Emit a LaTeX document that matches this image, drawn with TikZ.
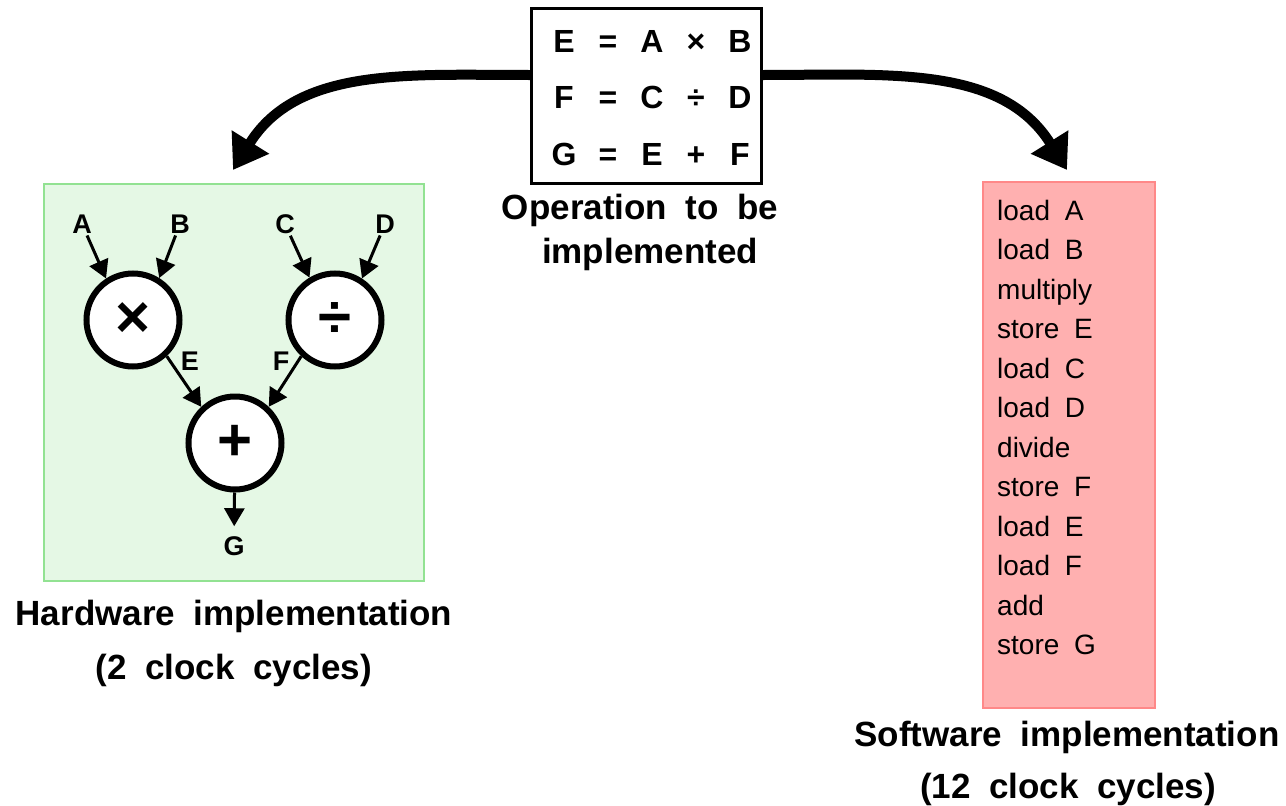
\documentclass[tikz,border=0pt]{standalone}
\usepackage{fontspec}
\setmainfont{Liberation Sans}
\newfontfamily\capf[WordSpace=2.6]{Liberation Sans}
\newfontfamily\codef[WordSpace=1.9]{Liberation Sans}
\usetikzlibrary{arrows.meta}
\definecolor{hwfill}{HTML}{E5F8E5}
\definecolor{hwline}{HTML}{92E292}
\definecolor{swfill}{HTML}{FFB0B0}
\definecolor{swline}{HTML}{FF8888}
\tikzset{
  caption/.style={anchor=base, inner sep=0, font=\capf\bfseries\fontsize{35}{40}\selectfont},
  eqline/.style={anchor=base, inner sep=0, font=\bfseries\fontsize{32}{38}\selectfont},
  var/.style={inner sep=2pt, font=\bfseries\fontsize{27}{30}\selectfont},
  opcircle/.style={circle, draw, fill=white, line width=6pt, minimum size=93pt, inner sep=0, font=\bfseries\fontsize{60}{60}\selectfont},
  smallarrow/.style={line width=3pt, -{Triangle[length=18pt,width=20pt]}},
  bigarrow/.style={line width=10pt, -{Triangle[length=33pt,width=42pt]}},
}
\newcommand{\cell}[1]{\makebox[44pt]{#1}}
\begin{document}
\begin{tikzpicture}[x=1pt,y=-1pt]
\useasboundingbox (0,0) rectangle (1286,806);
% operation box
\node[draw, line width=3pt, minimum width=230pt, minimum height=175pt, inner sep=0] (op) at (646.5,95.5) {};
\node[eqline] (eq1) at (652,52) {\cell{E}\cell{=}\cell{A}\cell{×}\cell{B}};
\node[eqline] (eq2) at (652,108) {\cell{F}\cell{=}\cell{C}\cell{÷}\cell{D}};
\node[eqline] (eq3) at (652,165) {\cell{G}\cell{=}\cell{E}\cell{+}\cell{F}};
\node[caption] (opcap1) at (640,219) {Operation to be};
\node[caption] (opcap2) at (650,263) {implemented};
% hardware box
\node[draw=hwline, fill=hwfill, line width=2.5pt, minimum width=380pt, minimum height=397pt, inner sep=0] (hw) at (234,382.5) {};
\node[opcircle] (mul) at (133,320) {×};
\node[opcircle] (div) at (335,320) {÷};
\node[opcircle] (add) at (235,443) {+};
\node[var] (A) at (82,224) {A};
\node[var] (B) at (180,224) {B};
\node[var] (C) at (285,224) {C};
\node[var] (D) at (385,224) {D};
\node[var] (E) at (190,361) {E};
\node[var] (F) at (281,361) {F};
\node[var] (G) at (234,546) {G};
\draw[smallarrow] (A) -- (mul.123);
\draw[smallarrow] (B) -- (mul.58);
\draw[smallarrow] (C) -- (div.121);
\draw[smallarrow] (D) -- (div.57);
\draw[smallarrow] (mul.-47) -- (add.133);
\draw[smallarrow] (div.-133) -- (add.47);
\draw[smallarrow, shorten >=8pt] (add) -- (G);
\node[caption] (hwcap1) at (234,625) {Hardware implementation};
\node[caption] (hwcap2) at (234,679) {(2 clock cycles)};
% software box
\node[draw=swline, fill=swfill, line width=2.5pt, minimum width=172pt, minimum height=526pt, inner sep=0] (sw) at (1069,445) {};
\node[anchor=north west, inner sep=0, align=left, font=\codef\fontsize{28}{39.5}\selectfont] (code) at (997,200)
 {load A\\load B\\multiply\\store E\\load C\\load D\\divide\\store F\\load E\\load F\\add\\store G};
\node[caption] (swcap1) at (1067,746) {Software implementation};
\node[caption] (swcap2) at (1068,798) {(12 clock cycles)};
% big arrows
\coordinate (lt) at (233,170);
\coordinate (rt) at (1067,170);
\draw[bigarrow] (op.west |- 0,75) to[out=180, in=58] (lt);
\draw[bigarrow] (op.east |- 0,75) to[out=0, in=122] (rt);
\end{tikzpicture}
\end{document}
